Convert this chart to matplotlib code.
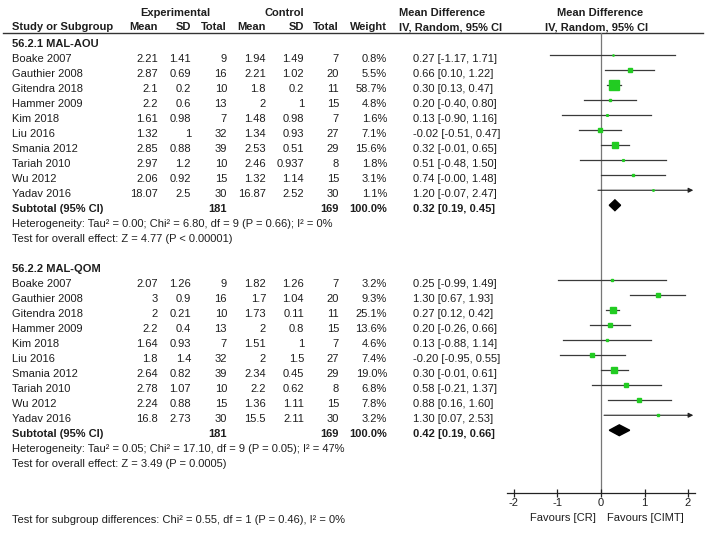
import numpy as np
import matplotlib
matplotlib.use("Agg")
import matplotlib.pyplot as plt
from matplotlib.patches import Polygon

plt.rcParams['font.family'] = ['Liberation Sans', 'DejaVu Sans']

# ---- data ----
studies = ["Boake 2007", "Gauthier 2008", "Gitendra 2018", "Hammer 2009", "Kim 2018",
           "Liu 2016", "Smania 2012", "Tariah 2010", "Wu 2012", "Yadav 2016"]

g1_name = "56.2.1 MAL-AOU"
g1_exp_mean = [2.21, 2.87, 2.1, 2.2, 1.61, 1.32, 2.85, 2.97, 2.06, 18.07]
g1_exp_sd = [1.41, 0.69, 0.2, 0.6, 0.98, 1, 0.88, 1.2, 0.92, 2.5]
g1_exp_n = [9, 16, 10, 13, 7, 32, 39, 10, 15, 30]
g1_ctl_mean = [1.94, 2.21, 1.8, 2, 1.48, 1.34, 2.53, 2.46, 1.32, 16.87]
g1_ctl_sd = [1.49, 1.02, 0.2, 1, 0.98, 0.93, 0.51, 0.937, 1.14, 2.52]
g1_ctl_n = [7, 20, 11, 15, 7, 27, 29, 8, 15, 30]
g1_weight = [0.8, 5.5, 58.7, 4.8, 1.6, 7.1, 15.6, 1.8, 3.1, 1.1]
g1_md = [0.27, 0.66, 0.30, 0.20, 0.13, -0.02, 0.32, 0.51, 0.74, 1.20]
g1_lo = [-1.17, 0.10, 0.13, -0.40, -0.90, -0.51, -0.01, -0.48, -0.0, -0.07]
g1_hi = [1.71, 1.22, 0.47, 0.80, 1.16, 0.47, 0.65, 1.50, 1.48, 2.47]
g1_total = (181, 169, 0.32, 0.19, 0.45)
g1_het = "Heterogeneity: Tau\u00b2 = 0.00; Chi\u00b2 = 6.80, df = 9 (P = 0.66); I\u00b2 = 0%"
g1_test = "Test for overall effect: Z = 4.77 (P < 0.00001)"

g2_name = "56.2.2 MAL-QOM"
g2_exp_mean = [2.07, 3, 2, 2.2, 1.64, 1.8, 2.64, 2.78, 2.24, 16.8]
g2_exp_sd = [1.26, 0.9, 0.21, 0.4, 0.93, 1.4, 0.82, 1.07, 0.88, 2.73]
g2_exp_n = [9, 16, 10, 13, 7, 32, 39, 10, 15, 30]
g2_ctl_mean = [1.82, 1.7, 1.73, 2, 1.51, 2, 2.34, 2.2, 1.36, 15.5]
g2_ctl_sd = [1.26, 1.04, 0.11, 0.8, 1, 1.5, 0.45, 0.62, 1.11, 2.11]
g2_ctl_n = [7, 20, 11, 15, 7, 27, 29, 8, 15, 30]
g2_weight = [3.2, 9.3, 25.1, 13.6, 4.6, 7.4, 19.0, 6.8, 7.8, 3.2]
g2_md = [0.25, 1.30, 0.27, 0.20, 0.13, -0.20, 0.30, 0.58, 0.88, 1.30]
g2_lo = [-0.99, 0.67, 0.12, -0.26, -0.88, -0.95, -0.01, -0.21, 0.16, 0.07]
g2_hi = [1.49, 1.93, 0.42, 0.66, 1.14, 0.55, 0.61, 1.37, 1.60, 2.53]
g2_total = (181, 169, 0.42, 0.19, 0.66)
g2_het = "Heterogeneity: Tau\u00b2 = 0.05; Chi\u00b2 = 17.10, df = 9 (P = 0.05); I\u00b2 = 47%"
g2_test = "Test for overall effect: Z = 3.49 (P = 0.0005)"

subgroup_test = "Test for subgroup differences: Chi\u00b2 = 0.55, df = 1 (P = 0.46), I\u00b2 = 0%"
axis_ticks = [-2, -1, 0, 1, 2]
favours = ["Favours [CR]", "Favours [CIMT]"]

groups = [
    (g1_name, g1_exp_mean, g1_exp_sd, g1_exp_n, g1_ctl_mean, g1_ctl_sd, g1_ctl_n,
     g1_weight, g1_md, g1_lo, g1_hi, g1_total, g1_het, g1_test),
    (g2_name, g2_exp_mean, g2_exp_sd, g2_exp_n, g2_ctl_mean, g2_ctl_sd, g2_ctl_n,
     g2_weight, g2_md, g2_lo, g2_hi, g2_total, g2_het, g2_test),
]

# ---- layout (pixels) ----
W, H = 708, 533
Y0, DY = 44, 15
FS = 8.0
TC = '#1e1e1e'
cols = [158, 191, 227, 266, 304, 339]   # right edges of number columns
x_weight = 387
x_ci = 413
x_name = 12
XL, XR = -2.16, 2.16
ax_px_left, ax_px_right = 507, 695
ax_top, ax_bot = 33, 493

fig = plt.figure(figsize=(W / 100, H / 100), dpi=100)
ax = fig.add_axes([0, 0, 1, 1])
ax.set_xlim(0, W)
ax.set_ylim(H, 0)
ax.axis('off')

fa = fig.add_axes([ax_px_left / W, (H - ax_bot) / H,
                   (ax_px_right - ax_px_left) / W, (ax_bot - ax_top) / H])
fa.set_facecolor('none')
fa.set_xlim(XL, XR)
fa.set_ylim((ax_bot - Y0) / DY, (ax_top - Y0) / DY)


def ry(i):
    return Y0 + DY * i


def txt(x, i, s, ha='left', bold=False, y=None):
    ax.text(x, ry(i) if y is None else y, s, ha=ha, va='center', fontsize=FS, color=TC,
            fontweight='bold' if bold else 'normal')


# header
hb = dict(fontsize=FS, color=TC, fontweight='bold', va='center')
ax.text(175, 13, "Experimental", ha='center', **hb)
ax.text(284, 13, "Control", ha='center', **hb)
ax.text(442, 13, "Mean Difference", ha='center', **hb)
ax.text(600, 13, "Mean Difference", ha='center', **hb)
ax.text(x_name, 27, "Study or Subgroup", ha='left', **hb)
for x, s in zip(cols, ["Mean", "SD", "Total", "Mean", "SD", "Total"]):
    ax.text(x, 27, s, ha='right', **hb)
ax.text(x_weight, 27, "Weight", ha='right', **hb)
ax.text(451, 27, "IV, Random, 95% CI", ha='center', **hb)
ax.text(597, 27, "IV, Random, 95% CI", ha='center', **hb)
ax.plot([3, 703], [32.5, 32.5], color='#333333', lw=1.0)

OFF = -0.25  # marks sit slightly above the text centre
row = 0
for (gname, em, esd, en, cm, csd, cn, w, md, lo, hi, tot, het, test) in groups:
    txt(x_name, row, gname, bold=True)
    row += 1
    for k in range(len(studies)):
        txt(x_name, row, studies[k])
        for x, v in zip(cols, [em[k], esd[k], en[k], cm[k], csd[k], cn[k]]):
            txt(x, row, f"{v:g}", ha='right')
        txt(x_weight, row, f"{w[k]:.1f}%", ha='right')
        txt(x_ci, row, f"{md[k]:.2f} [{lo[k]:.2f}, {hi[k]:.2f}]")
        yy = row + OFF
        if hi[k] > XR:
            fa.annotate('', xy=(XR - 0.04, yy), xytext=(lo[k], yy),
                        arrowprops=dict(arrowstyle='-|>', color='#222222', lw=0.8,
                                        mutation_scale=7, shrinkA=0, shrinkB=0))
        else:
            fa.plot([lo[k], hi[k]], [yy, yy], color='#3a3a3a', lw=0.9, zorder=2)
        fa.plot(md[k], yy, 's', color='#22cc22', mec='#22cc22',
                ms=1.3 * np.sqrt(w[k]) * 0.72, zorder=3)
        row += 1
    txt(x_name, row, "Subtotal (95% CI)", bold=True)
    txt(cols[2], row, f"{tot[0]}", ha='right', bold=True)
    txt(cols[5], row, f"{tot[1]}", ha='right', bold=True)
    txt(x_weight, row, "100.0%", ha='right', bold=True)
    txt(x_ci, row, f"{tot[2]:.2f} [{tot[3]:.2f}, {tot[4]:.2f}]", bold=True)
    yy = row + OFF
    fa.add_patch(Polygon([[tot[3], yy], [tot[2], yy - 0.36], [tot[4], yy], [tot[2], yy + 0.36]],
                         closed=True, color='black', zorder=3))
    row += 1
    txt(x_name, row, het)
    row += 1
    txt(x_name, row, test)
    row += 2

ax.text(x_name, 520, subgroup_test, ha='left', va='center', fontsize=FS, color=TC)

# forest axis
fa.axvline(0, color='#777777', lw=0.9, zorder=1)
for s in ['top', 'right', 'left']:
    fa.spines[s].set_visible(False)
fa.spines['bottom'].set_color('#222222')
fa.spines['bottom'].set_linewidth(0.9)
fa.set_yticks([])
fa.set_xticks(axis_ticks)
fa.set_xticklabels([f"{t:g}" for t in axis_ticks])
fa.tick_params(axis='x', direction='inout', length=6, width=0.9, pad=0.5,
               labelsize=FS, labelcolor=TC, color='#222222')
ax.text(596, 518, favours[0], ha='right', va='center', fontsize=FS, color=TC)
ax.text(607, 518, favours[1], ha='left', va='center', fontsize=FS, color=TC)

fig.savefig("out.png", dpi=100)
